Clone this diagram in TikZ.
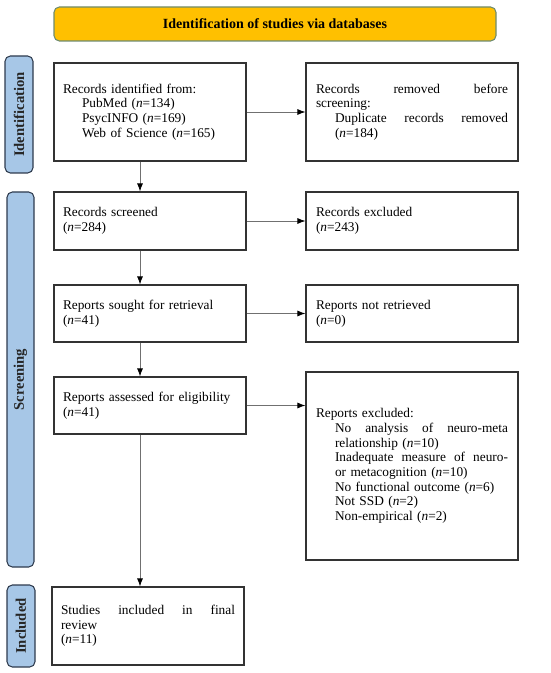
\documentclass[tikz,border=0pt]{standalone}
\usepackage{fontspec}
\setmainfont{Liberation Serif}
\usetikzlibrary{arrows.meta}
\definecolor{bannerfill}{HTML}{FFC000}
\definecolor{bannerdraw}{HTML}{6E8B6E}
\definecolor{sidefill}{HTML}{A7C7E7}
\definecolor{sidedraw}{HTML}{2E3B4E}
\definecolor{arrline}{HTML}{707070}
\begin{document}
\begin{tikzpicture}[x=0.75pt,y=-0.75pt,
  txt/.style={font=\fontsize{10}{11}\selectfont},
  lbox/.style={draw=black!80, line width=0.9pt, rectangle, inner ysep=0pt,
    inner xsep=6.75pt, text width=130.5pt, align=left, txt},
  rbox/.style={draw=black!80, line width=0.9pt, rectangle, inner ysep=0pt,
    inner xsep=7.5pt, text width=144pt, align=left, txt},
  side/.style={draw=sidedraw, line width=0.8pt, fill=sidefill, rounded corners=4pt,
    rotate=90, inner sep=0pt, font=\fontsize{11}{12}\selectfont\bfseries, text=black!85},
  banner/.style={draw=bannerdraw, line width=0.8pt, fill=bannerfill, rounded corners=4pt,
    inner sep=0pt, font=\fontsize{10.5}{12}\selectfont\bfseries},
  arr/.style={draw=arrline, line width=0.6pt, -{Latex[length=6pt,width=4.5pt,color=black]}}
]
\useasboundingbox (0,0) rectangle (550,673);

\node[banner, minimum width=331.5pt, minimum height=25.5pt] (ban) at (275,24) {Identification of studies via databases};

\node[side, minimum width=87.75pt, minimum height=21pt] (sid) at (19,114.5) {Identification};
\node[side, minimum width=281.25pt, minimum height=20.25pt] (sscr) at (20.5,379.5) {Screening};
\node[side, minimum width=61.5pt, minimum height=21pt] (sinc) at (21,626) {Included};

\node[lbox, minimum height=73.5pt] (b1) at (150,112) {Records identified from:\\
\hspace*{14.25pt}PubMed (\textit{n}=134)\\
\hspace*{14.25pt}PsycINFO (\textit{n}=169)\\
\hspace*{14.25pt}Web of Science (\textit{n}=165)};

\node[rbox, minimum height=73.5pt] (b2) at (412,112) {Records\hfill removed\hfill before\\
screening:\\
\hspace*{14.25pt}Duplicate\hfill records\hfill removed\\
\hspace*{14.25pt}(\textit{n}=184)};

\node[lbox, minimum height=43.5pt] (b3) at (150,221) {Records screened\\(\textit{n}=284)};
\node[rbox, minimum height=43.5pt] (b4) at (412,221) {Records excluded\\(\textit{n}=243)};

\node[lbox, minimum height=42.75pt] (b5) at (150,313.5) {Reports sought for retrieval\\(\textit{n}=41)};
\node[rbox, minimum height=42.75pt] (b6) at (412,313.5) {Reports not retrieved\\(\textit{n}=0)};

\node[lbox, minimum height=42.75pt] (b7) at (150,405.5) {Reports assessed for eligibility\\(\textit{n}=41)};
\node[rbox, minimum height=141pt] (b8) at (412,466) {Reports excluded:\\
\hspace*{14.25pt}No\hfill analysis\hfill of\hfill neuro-meta\\
\hspace*{14.25pt}relationship (\textit{n}=10)\\
\hspace*{14.25pt}Inadequate\hfill measure\hfill of\hfill neuro-\\
\hspace*{14.25pt}or metacognition (\textit{n}=10)\\
\hspace*{14.25pt}No functional outcome (\textit{n}=6)\\
\hspace*{14.25pt}Not SSD (\textit{n}=2)\\
\hspace*{14.25pt}Non-empirical (\textit{n}=2)};

\node[lbox, minimum height=58.5pt] (b9) at (148,626) {Studies\hfill included\hfill in\hfill final\\
review\\(\textit{n}=11)};

\draw[arr] (b1.east) -- (b2.west);
\draw[arr] (b3.east) -- (b4.west);
\draw[arr] (b5.east) -- (b6.west);
\draw[arr] (b7.east) -- (b7.east -| b8.west);
\draw[arr] ([xshift=-7.5pt]b1.south) -- ([xshift=-7.5pt]b1.south |- b3.north);
\draw[arr] ([xshift=-7.5pt]b3.south) -- ([xshift=-7.5pt]b3.south |- b5.north);
\draw[arr] ([xshift=-7.5pt]b5.south) -- ([xshift=-7.5pt]b5.south |- b7.north);
\draw[arr] ([xshift=-7.5pt]b7.south) -- ([xshift=-7.5pt]b7.south |- b9.north);
\end{tikzpicture}
\end{document}
